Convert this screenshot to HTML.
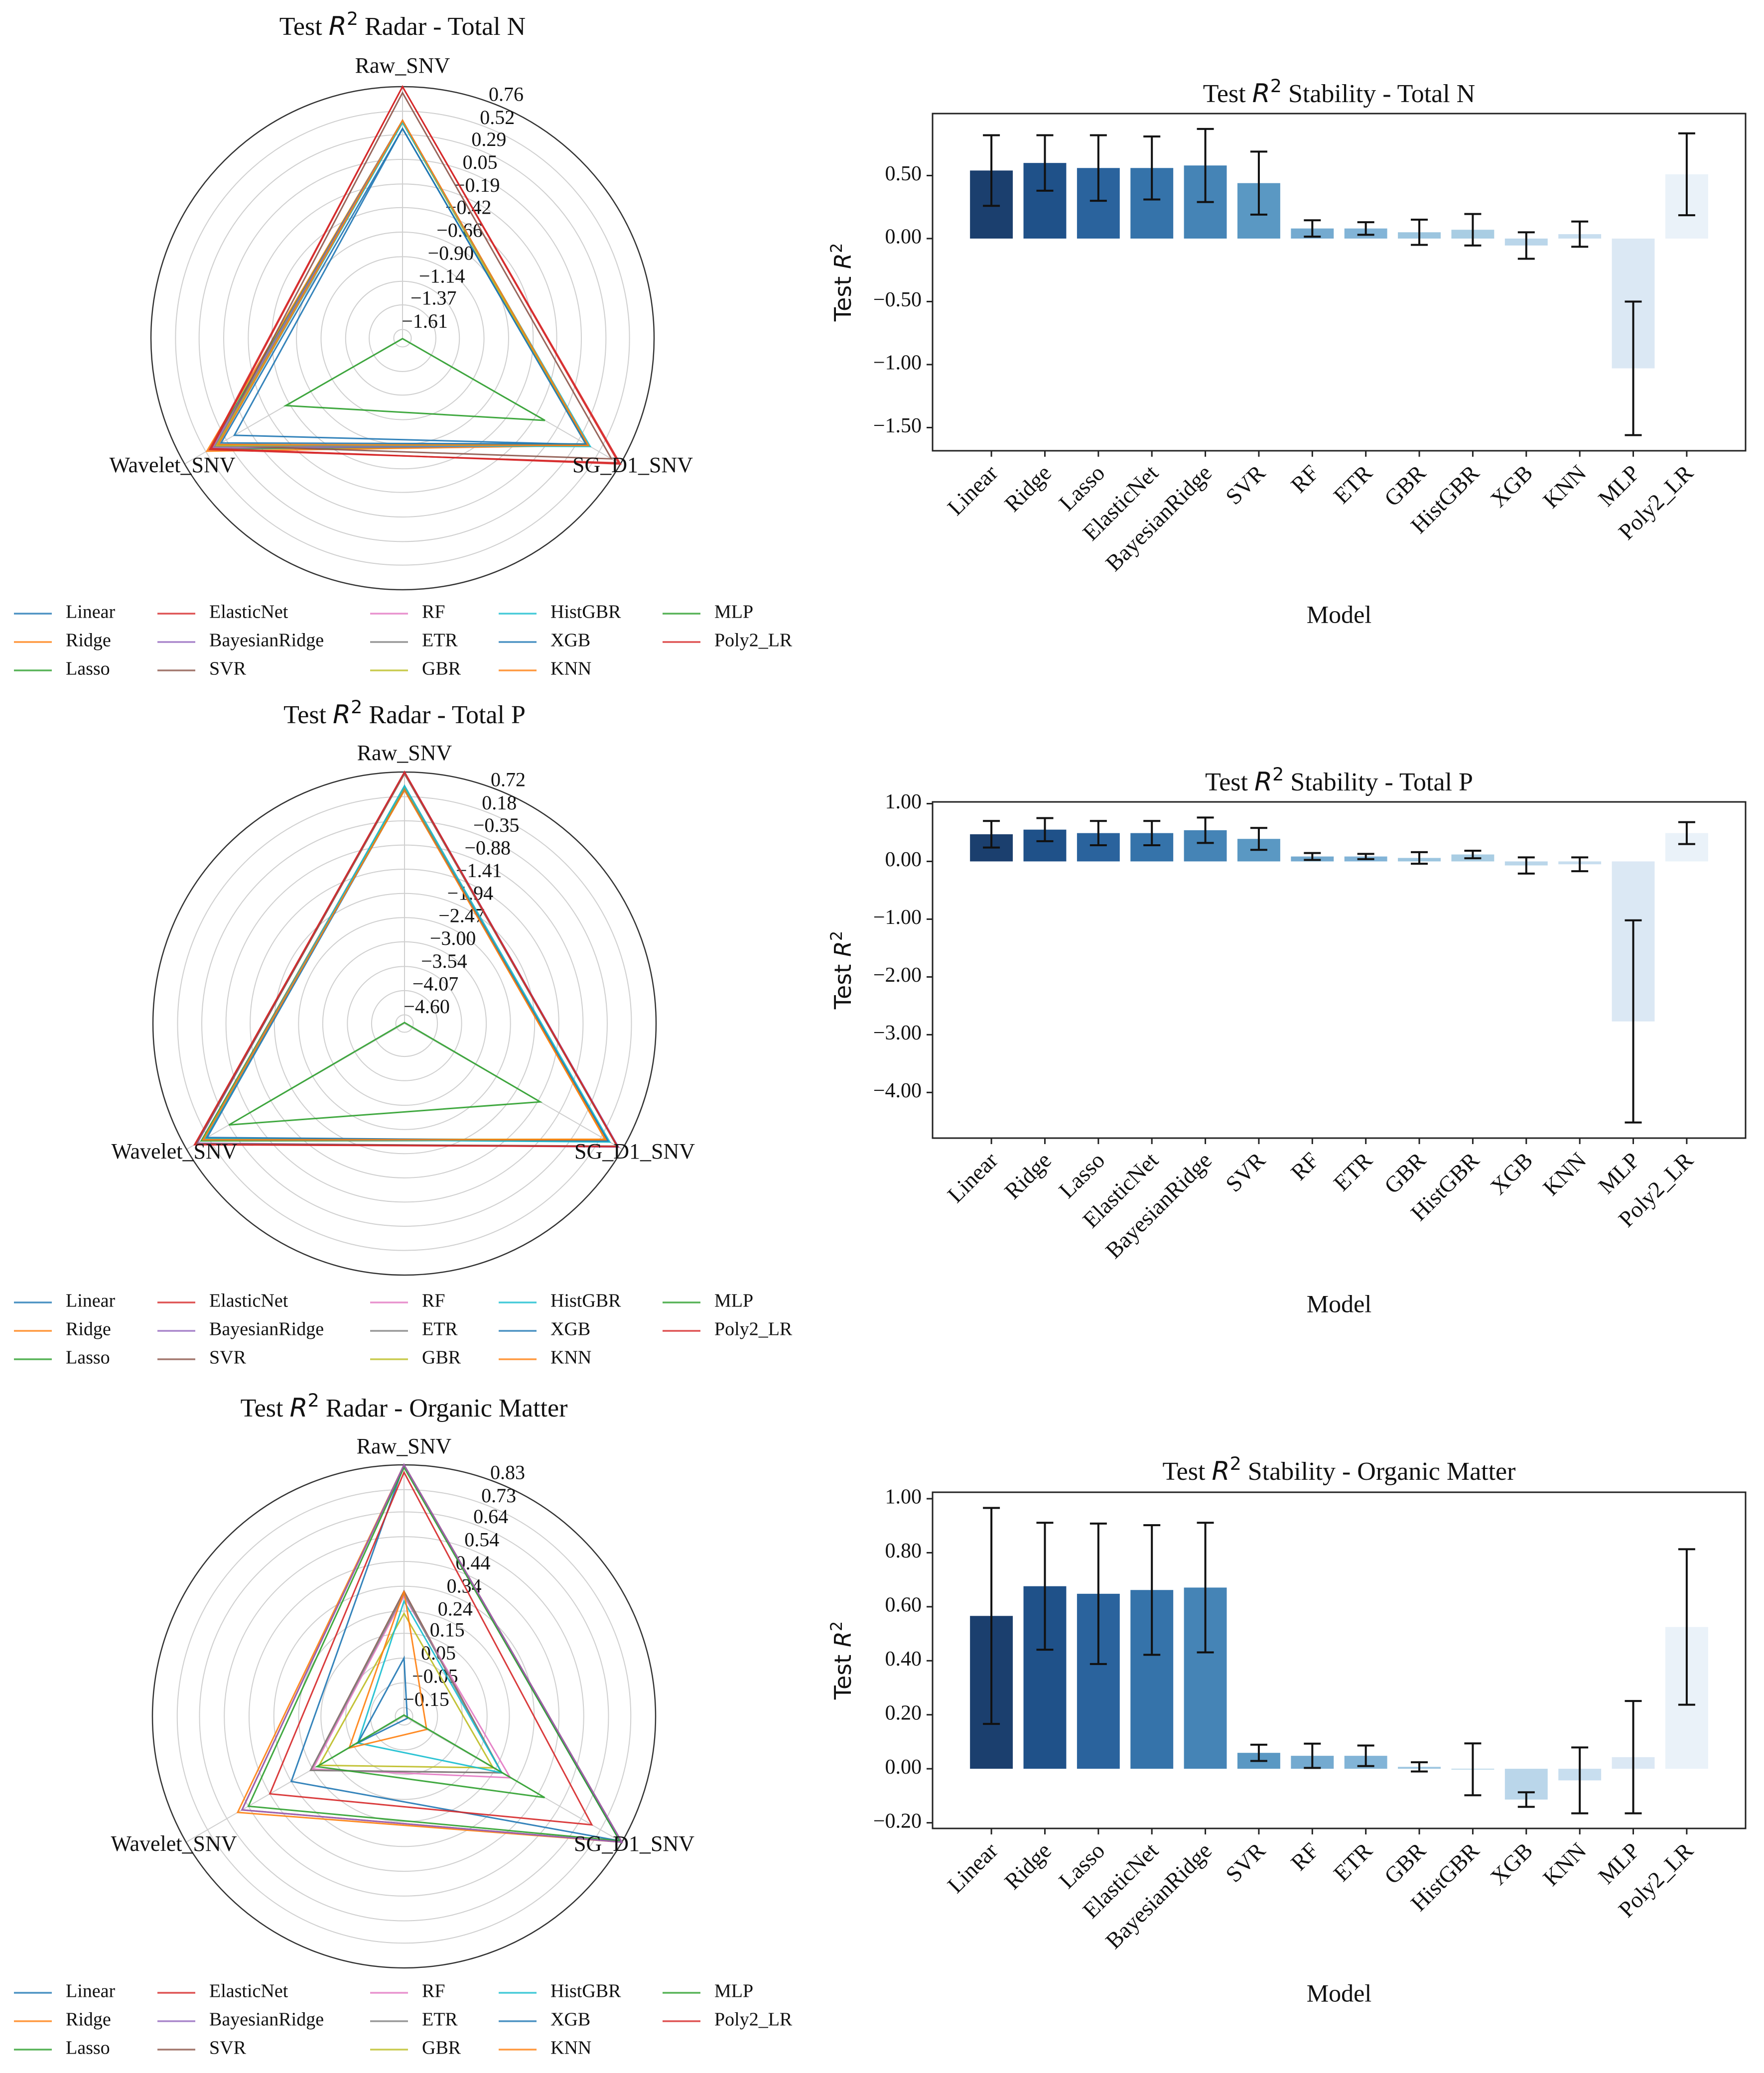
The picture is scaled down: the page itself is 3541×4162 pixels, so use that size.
<!DOCTYPE html>
<html><head><meta charset="utf-8">
<style>
html,body{margin:0;padding:0;background:#fff;}
svg{display:block;}
text{font-family:"Liberation Serif",serif;fill:#111;}
.sans{font-family:"DejaVu Sans","Liberation Sans",sans-serif;}
</style></head>
<body>
<svg id="fig" xmlns="http://www.w3.org/2000/svg" width="3541" height="4162" viewBox="0 0 3541 4162"></svg>
<script>
const models = ["Linear","Ridge","Lasso","ElasticNet","BayesianRidge","SVR","RF","ETR","GBR","HistGBR","XGB","KNN","MLP","Poly2_LR"];
const radarAxes = ["Raw_SNV","SG_D1_SNV","Wavelet_SNV"];
const lineColors = ["#1f77b4","#ff7f0e","#2ca02c","#d62728","#9467bd","#8c564b","#e377c2","#7f7f7f","#bcbd22","#17becf","#1f77b4","#ff7f0e","#2ca02c","#d62728"];
const barColors = ["#1b3f6e","#1f5189","#2a639d","#3573aa","#4584b6","#5a98c3","#74aad0","#82b4d7","#9cc5df","#a9cde3","#bad6ea","#c8deef","#dbe8f4","#eaf2f9"];

// Radar values [Raw_SNV, SG_D1_SNV, Wavelet_SNV]
const radarN = [[0.35,0.38,0.20],[0.43,0.40,0.51],[0.43,0.39,0.47],[0.76,0.74,0.48],[0.43,0.40,0.45],[0.70,0.66,0.40],[0.42,0.38,0.42],[0.42,0.39,0.42],[0.41,0.37,0.40],[0.41,0.42,0.38],[0.35,0.37,0.35],[0.43,0.40,0.38],[-1.70,-0.09,-0.38],[0.76,0.76,0.46]];
const radarP = [[0.40,0.32,0.25],[0.35,0.28,0.30],[0.38,0.33,0.35],[0.72,0.60,0.50],[0.72,0.62,0.45],[0.68,0.58,0.48],[0.40,0.35,0.30],[0.40,0.36,0.30],[0.35,0.30,0.25],[0.42,0.40,0.25],[0.33,0.35,0.20],[0.32,0.30,0.30],[-4.77,-1.36,-0.35],[0.72,0.60,0.52]];
const radarOM = [[0.83,0.82,0.34],[0.83,0.83,0.59],[0.82,0.82,0.54],[0.83,0.83,0.57],[0.83,0.83,0.57],[0.32,0.27,0.25],[0.30,0.31,0.24],[0.31,0.27,0.25],[0.23,0.23,0.21],[0.28,0.27,0.03],[0.05,-0.17,0.03],[0.32,-0.08,0.07],[-0.18,0.47,0.22],[0.80,0.69,0.44]];
const ticksN = ["0.76","0.52","0.29","0.05","−0.19","−0.42","−0.66","−0.90","−1.14","−1.37","−1.61"];
const ticksP = ["0.72","0.18","−0.35","−0.88","−1.41","−1.94","−2.47","−3.00","−3.54","−4.07","−4.60"];
const ticksOM = ["0.83","0.73","0.64","0.54","0.44","0.34","0.24","0.15","0.05","−0.05","−0.15"];

// Bar means and std
const meanN = [0.54,0.60,0.56,0.56,0.58,0.44,0.08,0.08,0.05,0.07,-0.055,0.035,-1.03,0.51];
const stdN  = [0.28,0.22,0.26,0.25,0.29,0.25,0.065,0.05,0.10,0.125,0.105,0.10,0.53,0.325];
const meanP = [0.47,0.55,0.49,0.49,0.54,0.39,0.085,0.085,0.06,0.12,-0.07,-0.05,-2.77,0.49];
const stdP  = [0.23,0.20,0.21,0.21,0.22,0.19,0.06,0.045,0.10,0.065,0.14,0.12,1.75,0.19];
const meanOM = [0.566,0.676,0.648,0.662,0.671,0.059,0.048,0.048,0.007,-0.002,-0.114,-0.043,0.043,0.525];
const stdOM  = [0.40,0.235,0.26,0.24,0.24,0.03,0.045,0.038,0.017,0.096,0.027,0.122,0.208,0.288];
const yTicksN = [0.5,0,-0.5,-1.0,-1.5];
const yTicksP = [1,0,-1,-2,-3,-4];
const yTicksOM = [1.0,0.8,0.6,0.4,0.2,0,-0.2];

const svg = document.getElementById('fig');
const NS = "http://www.w3.org/2000/svg";
function mk(tag, attrs, parent){
  const e = document.createElementNS(NS, tag);
  for (const k in attrs) e.setAttribute(k, attrs[k]);
  (parent||svg).appendChild(e);
  return e;
}
function titleText(g, x, y, pre, post, size){
  const t = mk('text', {x:x, y:y, 'text-anchor':'middle', 'font-size':size}, g);
  const a = mk('tspan', {}, t); a.textContent = pre + ' ';
  const r = mk('tspan', {class:'sans','font-style':'italic'}, t); r.textContent = 'R';
  const s = mk('tspan', {class:'sans','font-size':size*0.7, dy:-size*0.38}, t); s.textContent = '2';
  const b = mk('tspan', {dy:size*0.38}, t); b.textContent = ' ' + post;
  return t;
}

function radar(name, cx, cy, vals, ticks, titleY, topLblY, sideLblY, legY){
  const R = 505;
  const g = mk('g', {});
  
  
  const tnum = ticks.map(s => parseFloat(s.replace('−','-')));
  const vmax = tnum[0], tmin = tnum[tnum.length-1];
  const step = (vmax - tmin) / (tnum.length - 1);
  const vmin = tmin - 0.36 * step;
  const rad = v => (v - vmin) / (vmax - vmin) * R;
  const ang = [90, -30, 210].map(a => a * Math.PI / 180);
  const pt = (v, i) => [cx + rad(v) * Math.cos(ang[i]), cy - rad(v) * Math.sin(ang[i])];
  const t = titleText(g, cx, titleY, 'Test', 'Radar - ' + name, 52);
  
  
  tnum.forEach((v, i) => {
    if (i === 0) return;
    const c = mk('circle', {cx:cx, cy:cy, r:rad(v), fill:'none', stroke:'#cfcfcf', 'stroke-width':2}, g);
    
    
  });
  for (let i = 0; i < 3; i++){
    const l = mk('line', {x1:cx, y1:cy, x2:cx + R*Math.cos(ang[i]), y2:cy - R*Math.sin(ang[i]), stroke:'#cfcfcf', 'stroke-width':2}, g);
    
    
  }
  const oc = mk('circle', {cx:cx, cy:cy, r:R, fill:'none', stroke:'#333', 'stroke-width':2.5}, g);
  
  
  const a22 = 21 * Math.PI / 180;
  tnum.forEach((v, i) => {
    const rr = rad(v);
    const x = cx + rr * Math.sin(a22) - 8;
    const y = cy - rr * Math.cos(a22) - 14;
    const tx = mk('text', {x:x, y:y, 'font-size':40, 'dominant-baseline':'middle'}, g);
    tx.textContent = ticks[i];
    
    
  });
  vals.forEach((row, m) => {
    const pts = row.map((v, i) => pt(v, i));
    const d = pts.map(p => p[0].toFixed(1) + ',' + p[1].toFixed(1)).join(' ');
    const pg = mk('polygon', {points:d, fill:'none', stroke:lineColors[m], 'stroke-width':3, 'stroke-linejoin':'miter', opacity:0.9}, g);
    
    
  });
  const l1 = mk('text', {x:cx, y:topLblY, 'text-anchor':'middle', 'dominant-baseline':'middle', 'font-size':44}, g);
  l1.textContent = radarAxes[0];
  
  
  const l2 = mk('text', {x:cx + 462, y:sideLblY, 'text-anchor':'middle', 'dominant-baseline':'middle', 'font-size':44}, g);
  l2.textContent = radarAxes[1];
  
  
  const l3 = mk('text', {x:cx - 462, y:sideLblY, 'text-anchor':'middle', 'dominant-baseline':'middle', 'font-size':44}, g);
  l3.textContent = radarAxes[2];
  
  
  const colX = [28, 316, 743, 1001, 1330];
  models.forEach((m, i) => {
    const c = Math.floor(i / 3), r = i % 3;
    const y = legY + r * 57;
    const lg = mk('g', {}, g);
    
    
    mk('line', {x1:colX[c], y1:y, x2:colX[c]+76, y2:y, stroke:lineColors[i], 'stroke-width':3.5, opacity:0.8}, lg);
    const tx = mk('text', {x:colX[c]+104, y:y, 'dominant-baseline':'middle', 'font-size':38}, lg);
    tx.textContent = m;
  });
}

function bars(name, titleStr, means, stds, yTicks, ymaxV, yminV, top, bottom, titleY, xlabY){
  const L = 1872, Rt = 3504;
  const g = mk('g', {});
  
  
  const yS = v => top + (ymaxV - v) / (ymaxV - yminV) * (bottom - top);
  const n = means.length;
  const bw = (Rt - L) / (n + 1.2);
  const xC = i => L + bw * (1.1 + i);
  const t = titleText(g, (L+Rt)/2, titleY, 'Test', 'Stability - ' + titleStr, 52);
  
  
  means.forEach((v, i) => {
    const y0 = yS(0), y1 = yS(v);
    const b = mk('rect', {x:xC(i) - bw*0.4, y:Math.min(y0,y1), width:bw*0.8, height:Math.max(Math.abs(y1-y0),1.5), fill:barColors[i]}, g);
    
    
  });
  means.forEach((v, i) => {
    const eg = mk('g', {stroke:'#111', 'stroke-width':4}, g);
    
    
    const yt = yS(v + stds[i]), yb = yS(v - stds[i]), x = xC(i);
    mk('line', {x1:x, y1:yt, x2:x, y2:yb}, eg);
    mk('line', {x1:x-17, y1:yt, x2:x+17, y2:yt}, eg);
    mk('line', {x1:x-17, y1:yb, x2:x+17, y2:yb}, eg);
  });
  const fr = mk('rect', {x:L, y:top, width:Rt-L, height:bottom-top, fill:'none', stroke:'#222', 'stroke-width':3}, g);
  
  
  yTicks.forEach(v => {
    const y = yS(v);
    mk('line', {x1:L-12, y1:y, x2:L, y2:y, stroke:'#222', 'stroke-width':3}, g);
    const tx = mk('text', {x:L-22, y:y, 'text-anchor':'end', 'dominant-baseline':'middle', 'font-size':42}, g);
    tx.textContent = (v < 0 ? '−' : '') + Math.abs(v).toFixed(2);
    
    
  });
  models.forEach((m, i) => {
    const x = xC(i);
    mk('line', {x1:x, y1:bottom, x2:x, y2:bottom+12, stroke:'#222', 'stroke-width':3}, g);
    const tx = mk('text', {x:x+8, y:bottom+40, 'text-anchor':'end', 'dominant-baseline':'middle', 'font-size':46, transform:'rotate(-45 ' + (x+8) + ' ' + (bottom+40) + ')'}, g);
    tx.textContent = m;
    
    
  });
  const xl = mk('text', {x:(L+Rt)/2, y:xlabY, 'text-anchor':'middle', 'dominant-baseline':'middle', 'font-size':50}, g);
  xl.textContent = 'Model';
  
  
  const ym = (top + bottom) / 2, yx = 1708;
  const yl = mk('text', {x:yx, y:ym, 'text-anchor':'middle', 'font-size':46, class:'sans', transform:'rotate(-90 ' + yx + ' ' + ym + ')'}, g);
  const a = mk('tspan', {}, yl); a.textContent = 'Test ';
  const r = mk('tspan', {'font-style':'italic'}, yl); r.textContent = 'R';
  const s = mk('tspan', {'font-size':32, dy:-18}, yl); s.textContent = '2';
  
  
}

radar('Total N', 808, 679, radarN, ticksN, 70, 136, 938, 1232);
radar('Total P', 812, 2055, radarP, ticksP, 1452, 1516, 2316, 2615);
radar('Organic Matter', 811, 3446, radarOM, ticksOM, 2844, 2908, 3706, 4001);
bars('total-n', 'Total N', meanN, stdN, yTicksN, 0.992, -1.684, 228, 905, 205, 1239);
bars('total-p', 'Total P', meanP, stdP, yTicksP, 1.03, -4.79, 1610, 2285, 1587, 2623);
bars('organic-matter', 'Organic Matter', meanOM, stdOM, yTicksOM, 1.024, -0.221, 2996, 3671, 2971, 4007);
</script>
</body></html>
